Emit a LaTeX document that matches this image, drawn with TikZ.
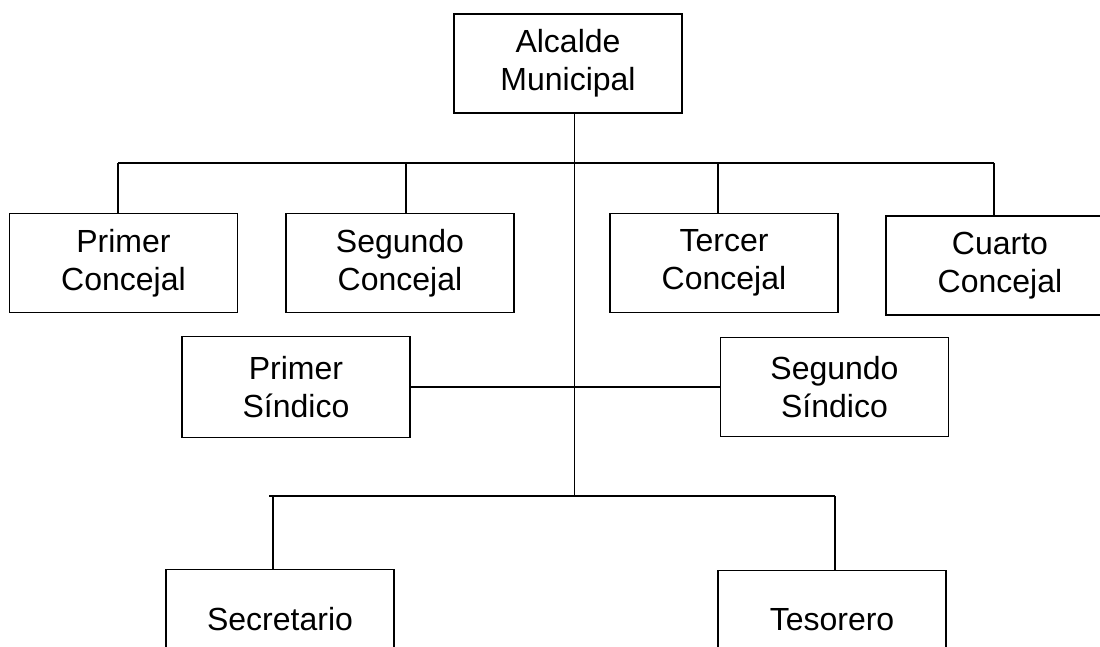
\documentclass[tikz,border=0pt]{standalone}
\usepackage{fontspec}
\setmainfont{Liberation Sans}
\begin{document}
\begin{tikzpicture}[x=0.5pt, y=-0.5pt, line width=0.9pt,
      cargo/.style = {shape=rectangle, draw, align=center,
        inner sep=0pt, minimum width=114pt, minimum height=49.5pt,
        font=\fontsize{16}{19}\selectfont}]
      \useasboundingbox (0,0) rectangle (1100,647);
      % top
      \node[cargo] (alcalde) at (568,63.5) {Alcalde\\Municipal};
      % concejales
      \node[cargo] (c1) at (123.5,263) {Primer\\Concejal};
      \node[cargo] (c2) at (400,263) {Segundo\\Concejal};
      \node[cargo] (c3) at (724,263) {Tercer\\Concejal};
      \node[cargo] (c4) at (1000,265.5) {Cuarto\\Concejal};
      % sindicos
      \node[cargo, minimum height=50.5pt] (s1) at (296,387) {Primer\\Síndico};
      \node[cargo] (s2) at (834.5,387) {Segundo\\Síndico};
      % bottom
      \node[cargo] (secre) at (280,619) {Secretario};
      \node[cargo] (teso) at (832,620) {Tesorero};

      \coordinate (top) at (574.5,113);
      \coordinate (mid) at (574.5,496);
      \coordinate (b1) at (118,163);
      \coordinate (b2) at (406,163);
      \coordinate (b3) at (718,163);
      \coordinate (b4) at (994,163);
      \coordinate (l1) at (269,496);
      \coordinate (d1) at (273,496);
      \coordinate (d2) at (835,496);

      \draw (top) -- (mid);
      \draw (b1) -- (b4);
      \foreach \b/\c in {b1/c1, b2/c2, b3/c3, b4/c4}
        \draw (\b) -- (\b |- \c.north);
      \draw (s1.east) -- (s2.west);
      \draw (l1) -- (d2);
      \draw (d1) -- (d1 |- secre.north);
      \draw (d2) -- (d2 |- teso.north);
\end{tikzpicture}
\end{document}
